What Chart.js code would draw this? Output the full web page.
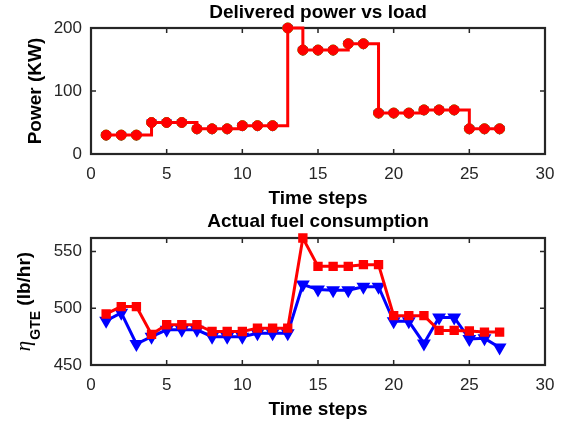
<!DOCTYPE html>
<html>
<head>
<meta charset="utf-8">
<script src="https://cdn.jsdelivr.net/npm/chart.js@4.4.0/dist/chart.umd.min.js"></script>
<style>
	html, body { margin: 0; padding: 0; background: #fff; }
	#wrap { position: relative; width: 567px; height: 422px; }
	canvas { position: absolute; left: 0; }
</style>
</head>
<body>
<div id="wrap">
	<canvas id="power" width="567" height="211" style="top:0"></canvas>
	<canvas id="fuel" width="567" height="211" style="top:211px"></canvas>
</div>
<script>
// データ
var timeSteps = [1, 2, 3, 4, 5, 6, 7, 8, 9, 10, 11, 12, 13, 14, 15, 16, 17, 18, 19, 20, 21, 22, 23, 24, 25, 26, 27];
var loadDemand = [30, 30, 30, 50, 50, 50, 40, 40, 40, 45, 45, 45, 200, 165, 165, 165, 175, 175, 65, 65, 65, 70, 70, 70, 40, 40, 40];
var loadSetpoint = [30, 30, 30, 50, 50, 50, 40, 40, 40, 45, 45, 45, 200, 165, 165, 165, 175, 175, 65, 65, 65, 70, 70, 70, 40, 40, 40];
var deliveredPower = [30, 30, 30, 50, 50, 50, 40, 40, 40, 45, 45, 45, 200, 165, 165, 165, 175, 175, 65, 65, 65, 70, 70, 70, 40, 40, 40];
var fuelRed = [495, 501.5, 501.5, 477, 485.5, 485.5, 485.5, 479.5, 479.5, 479.5, 482.5, 482.5, 482.5, 562, 537, 537, 537, 538.5, 538.5, 493.5, 493.5, 493.5, 480.5, 480.5, 480, 479, 479];
var fuelBlue = [489, 496, 468.5, 475, 481, 481, 481, 475, 475, 475, 478, 478, 478, 521, 516.5, 516, 516, 519, 519, 488.5, 488.5, 469, 492, 492, 473, 473.5, 465.5];
var xTicks = [0, 5, 10, 15, 20, 25, 30];
var powerTicks = [0, 100, 200];
var fuelTicks = [450, 500, 550];

var FONT = 'Liberation Sans, Arial, Helvetica, sans-serif';
var DARK = '#262626';

function xy(vals) {
	return timeSteps.map(function(t, i) { return { x: t, y: vals[i] }; });
}

// MATLAB風の枠と内向きの目盛り
var boxPlugin = {
	id: 'box',
	beforeDatasetsDraw: function(chart) {
		var a = chart.chartArea, ctx = chart.ctx,
			sx = chart.scales.x, sy = chart.scales.y;
		ctx.save();
		ctx.strokeStyle = DARK;
		ctx.lineWidth = 1.5;
		ctx.beginPath();
		sx.ticks.forEach(function(t) {
			var p = sx.getPixelForValue(t.value);
			if (p <= a.left + 1 || p >= a.right - 1) return;
			ctx.moveTo(p, a.bottom); ctx.lineTo(p, a.bottom - 5);
			ctx.moveTo(p, a.top); ctx.lineTo(p, a.top + 5);
		});
		sy.ticks.forEach(function(t) {
			var p = sy.getPixelForValue(t.value);
			if (p <= a.top + 1 || p >= a.bottom - 1) return;
			ctx.moveTo(a.left, p); ctx.lineTo(a.left + 5, p);
			ctx.moveTo(a.right, p); ctx.lineTo(a.right - 5, p);
		});
		ctx.stroke();
		ctx.lineWidth = 2.2;
		ctx.strokeRect(a.left, a.top, a.right - a.left, a.bottom - a.top);
		ctx.restore();
	}
};

// η_GTE ラベル（下付き文字）
var etaLabel = {
	id: 'etaLabel',
	afterDraw: function(chart) {
		var a = chart.chartArea, ctx = chart.ctx;
		var f1 = 'italic 21px "Liberation Serif", serif',
			f2 = 'bold 14px ' + FONT,
			f3 = 'bold 19px ' + FONT;
		ctx.save();
		ctx.fillStyle = '#000';
		ctx.textBaseline = 'alphabetic';
		ctx.textAlign = 'left';
		ctx.font = f1; var w1 = ctx.measureText('\u03b7').width;
		ctx.font = f2; var w2 = ctx.measureText('GTE').width;
		ctx.font = f3; var w3 = ctx.measureText(' (lb/hr)').width;
		var total = w1 + 1 + w2 + w3;
		ctx.translate(30, (a.top + a.bottom) / 2);
		ctx.rotate(-Math.PI / 2);
		var x0 = -total / 2;
		ctx.font = f1; ctx.fillText('\u03b7', x0, 0);
		ctx.font = f2; ctx.fillText('GTE', x0 + w1 + 1, 10);
		ctx.font = f3; ctx.fillText(' (lb/hr)', x0 + w1 + 1 + w2, 0);
		ctx.restore();
	}
};

function makeOptions(titleText, titlePad, yMin, yMax, yTicks, yTitle) {
	return {
		responsive: false,
		animation: false,
		devicePixelRatio: 1,
		layout: { padding: { left: 0, right: 22, top: 0, bottom: 0 } },
		plugins: {
			legend: { display: false },
			tooltip: { enabled: false },
			title: {
				display: true,
				text: titleText,
				fullSize: false,
				color: '#000',
				font: { family: FONT, size: 19, weight: 'bold', lineHeight: 1 },
				padding: titlePad
			}
		},
		scales: {
			x: {
				type: 'linear',
				min: 0, max: 30,
				afterBuildTicks: function(s) { s.ticks = xTicks.map(function(v) { return { value: v }; }); },
				afterFit: function(s) { s.height = 57; },
				grid: { display: false, drawTicks: false },
				border: { display: false },
				ticks: { color: DARK, padding: 10, maxRotation: 0, font: { family: FONT, size: 17 } },
				title: {
					display: true, text: 'Time steps', color: '#000',
					font: { family: FONT, size: 19, weight: 'bold', lineHeight: 1 },
					padding: { top: 0, bottom: 3 }
				}
			},
			y: {
				min: yMin, max: yMax,
				afterBuildTicks: function(s) { s.ticks = yTicks.map(function(v) { return { value: v }; }); },
				afterFit: function(s) { s.width = 91; },
				grid: { display: false, drawTicks: false },
				border: { display: false },
				ticks: { color: DARK, padding: 9, font: { family: FONT, size: 17 } },
				title: {
					display: !!yTitle, text: yTitle || '', color: '#000',
					font: { family: FONT, size: 19, weight: 'bold', lineHeight: 1 },
					padding: { top: 26, bottom: 0 }
				}
			}
		}
	};
}

// 上段：出力
new Chart(document.getElementById('power'), {
	type: 'line',
	data: {
		datasets: [
			{
				label: 'Delivered',
				data: xy(deliveredPower),
				stepped: 'before',
				borderColor: '#ff0000',
				borderWidth: 3,
				pointStyle: 'circle',
				pointRadius: 5,
				pointBackgroundColor: '#ff0000',
				pointBorderColor: '#ff0000',
				pointBorderWidth: 1,
				clip: false
			},
			{
				label: 'Setpoint',
				data: xy(loadSetpoint),
				showLine: false,
				pointStyle: 'circle',
				pointRadius: 5,
				pointBackgroundColor: '#00ff00',
				pointBorderColor: '#00ff00',
				clip: false
			},
			{
				label: 'Load',
				data: xy(loadDemand),
				showLine: false,
				pointStyle: 'triangle',
				pointRotation: 180,
				pointRadius: 5.5,
				pointBackgroundColor: '#0000ff',
				pointBorderColor: '#0000ff',
				clip: false
			}
		]
	},
	options: makeOptions('Delivered power vs load', { top: 3.5, bottom: 5.5 }, 0, 200, powerTicks, 'Power (KW)'),
	plugins: [boxPlugin]
});

// 下段：燃料消費
new Chart(document.getElementById('fuel'), {
	type: 'line',
	data: {
		datasets: [
			{
				label: 'Red',
				data: xy(fuelRed),
				borderColor: '#ff0000',
				borderWidth: 3,
				pointStyle: 'rect',
				pointRadius: 4.5,
				pointBackgroundColor: '#ff0000',
				pointBorderColor: '#ff0000',
				clip: false
			},
			{
				label: 'Blue',
				data: xy(fuelBlue),
				borderColor: '#0000ff',
				borderWidth: 3,
				pointStyle: 'triangle',
				pointRotation: 180,
				pointRadius: 5,
				pointBackgroundColor: '#0000ff',
				pointBorderColor: '#0000ff',
				clip: false
			}
		]
	},
	options: makeOptions('Actual fuel consumption', { top: 1, bottom: 7 }, 450, 562, fuelTicks, null),
	plugins: [boxPlugin, etaLabel]
});
</script>
</body>
</html>
